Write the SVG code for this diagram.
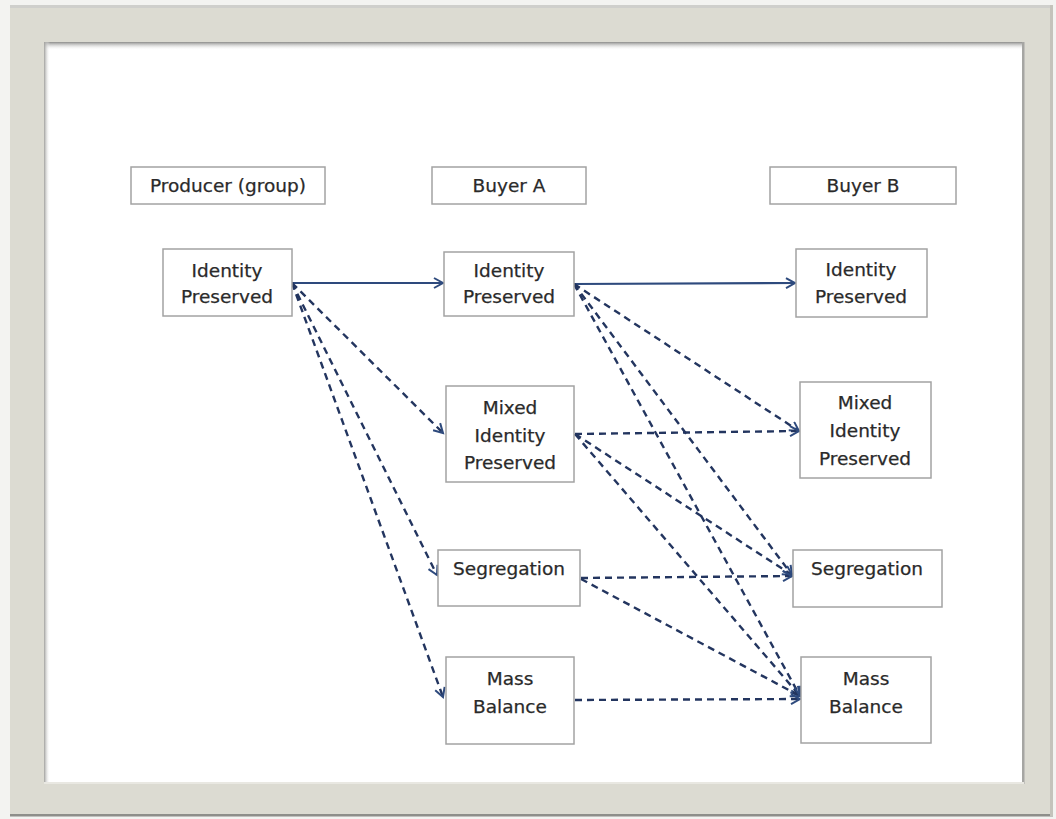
<svg xmlns="http://www.w3.org/2000/svg" width="1056" height="819" viewBox="0 0 1056 819">
<defs>
<style>
.box{fill:#ffffff;stroke:#a3a3a3;stroke-width:1.5}
.lbl{font-family:"DejaVu Sans","Liberation Sans",sans-serif;font-size:18.5px;fill:#2a2a2a;stroke:#2a2a2a;stroke-width:0.25;text-anchor:middle}
.solid{fill:none;stroke:#2e4a7d;stroke-width:2.2}
.dash{fill:none;stroke:#23355f;stroke-width:2.4;stroke-dasharray:7 5}
</style>
<marker id="arr" markerUnits="userSpaceOnUse" markerWidth="14" markerHeight="14" refX="11" refY="6" orient="auto">
<path d="M2,1 L11,6 L2,11" fill="none" stroke="#2e4a7d" stroke-width="2"/>
</marker>
<linearGradient id="topsh" x1="0" y1="0" x2="0" y2="1">
<stop offset="0" stop-color="#8c8c8a"/>
<stop offset="1" stop-color="#ffffff" stop-opacity="0"/>
</linearGradient>
<linearGradient id="leftsh" x1="0" y1="0" x2="1" y2="0">
<stop offset="0" stop-color="#a0a09d"/>
<stop offset="1" stop-color="#ffffff" stop-opacity="0"/>
</linearGradient>
</defs>
<g id="frame">
<rect x="0" y="0" width="1056" height="819" fill="#f3f3f1"/>
<rect x="10" y="5" width="1043" height="811" fill="#dcdbd2"/>
<rect x="10" y="5" width="1043" height="3" fill="#cfcfcc"/>
<rect x="10" y="814" width="1043" height="2.5" fill="#8e8e8a"/>
<rect x="1050" y="5" width="3" height="811" fill="#c4c3bb"/>
<rect x="44" y="42" width="980" height="742" fill="#ffffff"/>
<rect x="44" y="42" width="980" height="8" fill="url(#topsh)"/>
<rect x="44" y="42" width="6" height="742" fill="url(#leftsh)"/>
<rect x="1022" y="42" width="2.5" height="742" fill="#a6a6a3"/>
<rect x="44" y="782" width="980" height="2" fill="#e9e8e2"/>
</g>
<g id="connectors">
<path class="solid" d="M292,283 L443,283" marker-end="url(#arr)"/>
<path class="dash" d="M292,283 L443,433" marker-end="url(#arr)"/>
<path class="dash" d="M292,283 L437,575" marker-end="url(#arr)"/>
<path class="dash" d="M292,283 L443,697" marker-end="url(#arr)"/>
<path class="solid" d="M574,284 L795,283" marker-end="url(#arr)"/>
<path class="dash" d="M574,284 L799,431" marker-end="url(#arr)"/>
<path class="dash" d="M574,284 L792,575" marker-end="url(#arr)"/>
<path class="dash" d="M574,284 L800,696" marker-end="url(#arr)"/>
<path class="dash" d="M575,434 L799,431" marker-end="url(#arr)"/>
<path class="dash" d="M575,434 L792,575" marker-end="url(#arr)"/>
<path class="dash" d="M575,434 L800,696" marker-end="url(#arr)"/>
<path class="dash" d="M581,578 L792,576" marker-end="url(#arr)"/>
<path class="dash" d="M581,579 L800,696" marker-end="url(#arr)"/>
<path class="dash" d="M575,700 L800,699" marker-end="url(#arr)"/>
</g>
<g id="producer-header">
<rect class="box" x="131" y="167" width="194" height="37"/>
<text class="lbl" x="228" y="192">Producer (group)</text>
</g>
<g id="buyerA-header">
<rect class="box" x="432" y="167" width="154" height="37"/>
<text class="lbl" x="509" y="192">Buyer A</text>
</g>
<g id="buyerB-header">
<rect class="box" x="770" y="167" width="186" height="37"/>
<text class="lbl" x="863" y="192">Buyer B</text>
</g>
<g id="producer-ip">
<rect class="box" x="163" y="249" width="129" height="67"/>
<text class="lbl" x="227" y="277">Identity</text>
<text class="lbl" x="227" y="303">Preserved</text>
</g>
<g id="buyerA-ip">
<rect class="box" x="444" y="252" width="130" height="64"/>
<text class="lbl" x="509" y="277">Identity</text>
<text class="lbl" x="509" y="303">Preserved</text>
</g>
<g id="buyerB-ip">
<rect class="box" x="796" y="249" width="131" height="68"/>
<text class="lbl" x="861" y="276">Identity</text>
<text class="lbl" x="861" y="303">Preserved</text>
</g>
<g id="buyerA-mixed">
<rect class="box" x="446" y="386" width="128" height="96"/>
<text class="lbl" x="510" y="414">Mixed</text>
<text class="lbl" x="510" y="442">Identity</text>
<text class="lbl" x="510" y="469">Preserved</text>
</g>
<g id="buyerB-mixed">
<rect class="box" x="800" y="382" width="131" height="96"/>
<text class="lbl" x="865" y="409">Mixed</text>
<text class="lbl" x="865" y="437">Identity</text>
<text class="lbl" x="865" y="465">Preserved</text>
</g>
<g id="buyerA-seg">
<rect class="box" x="438" y="550" width="142" height="56"/>
<text class="lbl" x="509" y="575">Segregation</text>
</g>
<g id="buyerB-seg">
<rect class="box" x="793" y="550" width="149" height="57"/>
<text class="lbl" x="867" y="575">Segregation</text>
</g>
<g id="buyerA-mass">
<rect class="box" x="446" y="657" width="128" height="87"/>
<text class="lbl" x="510" y="685">Mass</text>
<text class="lbl" x="510" y="713">Balance</text>
</g>
<g id="buyerB-mass">
<rect class="box" x="801" y="657" width="130" height="86"/>
<text class="lbl" x="866" y="685">Mass</text>
<text class="lbl" x="866" y="713">Balance</text>
</g>
</svg>
